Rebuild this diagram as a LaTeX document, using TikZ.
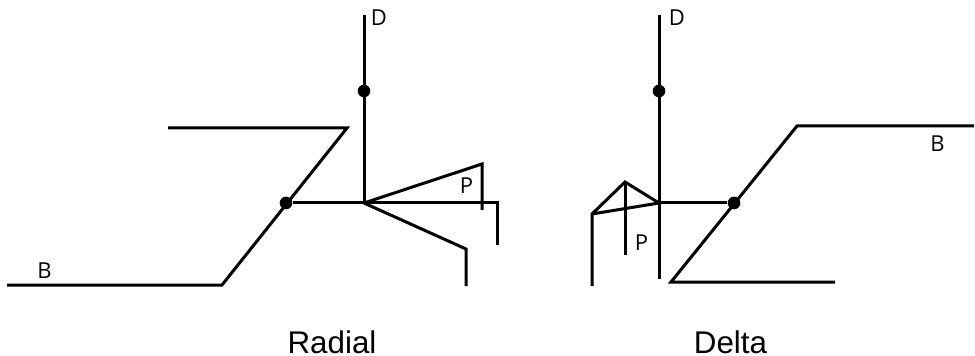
\documentclass[tikz,border=0pt]{standalone}
\usepackage{fontspec}
\setmainfont{Open Sans}
\newfontfamily\capfont{Liberation Sans}
\begin{document}
\begin{tikzpicture}[x=0.75pt,y=-0.75pt,
  wire/.style={draw=black,line width=2.25pt,line join=miter,line cap=butt},
  junction/.style={circle,fill=black,inner sep=0pt,minimum size=9.5pt},
  tag/.style={font=\fontsize{16.5}{18}\selectfont,inner sep=0pt,text=black,anchor=base},
  caption/.style={font=\capfont\fontsize{23.5}{28}\selectfont,inner sep=0pt,text depth=0pt,text=black,anchor=base}]
\useasboundingbox[fill=white] (0,0) rectangle (975,356);
% Radial
\coordinate (rc) at (364,203);
\coordinate (rtop) at (364,15);
\coordinate (rb0) at (7,285);
\coordinate (rb1) at (222,285);
\coordinate (rb2) at (347,128);
\coordinate (rb3) at (168,128);
\coordinate (rh1) at (497,203);
\coordinate (rh2) at (497,245);
\coordinate (ru1) at (482,164);
\coordinate (ru2) at (482,210);
\coordinate (rl1) at (466,249);
\coordinate (rl2) at (466,286);
\node[junction] (rdd) at (364,91) {};
\node[junction] (rdb) at (286,203) {};
\draw[wire] (rtop) -- (rc);
\draw[wire] (rb0) -- (rb1) -- (rb2) -- (rb3);
\draw[wire] (rdb) -- (rc) -- (rh1) -- (rh2);
\draw[wire] (rc) -- (ru1) -- (ru2);
\draw[wire] (rc) -- (rl1) -- (rl2);
\node[tag] (rD) at (379,26) {D};
\node[tag] (rP) at (466.5,194) {P};
\node[tag] (rB) at (44.5,278) {B};
\node[caption] (rcap) at (332,353) {Radial};
% Delta
\coordinate (dc) at (659,203);
\coordinate (dtop) at (659,15);
\coordinate (dbot) at (659,279);
\coordinate (dt1) at (592,214);
\coordinate (dt2) at (625,182);
\coordinate (dl) at (592,286);
\coordinate (dm) at (625,255);
\coordinate (db0) at (835,282);
\coordinate (db1) at (671,282);
\coordinate (db2) at (797,126);
\coordinate (db3) at (974,126);
\node[junction] (ddd) at (659,91) {};
\node[junction] (ddb) at (734,203) {};
\draw[wire] (dtop) -- (dbot);
\draw[wire] (dc) -- (ddb);
\draw[wire] (dl) -- (dt1) -- (dt2) -- (dc) -- (dt1);
\draw[wire] (dt2) -- (dm);
\draw[wire] (db0) -- (db1) -- (db2) -- (db3);
\node[tag] (dD) at (677,26) {D};
\node[tag] (dP) at (641.5,250) {P};
\node[tag] (dB) at (937.5,152) {B};
\node[caption] (dcap) at (730.5,353) {Delta};
\end{tikzpicture}
\end{document}
